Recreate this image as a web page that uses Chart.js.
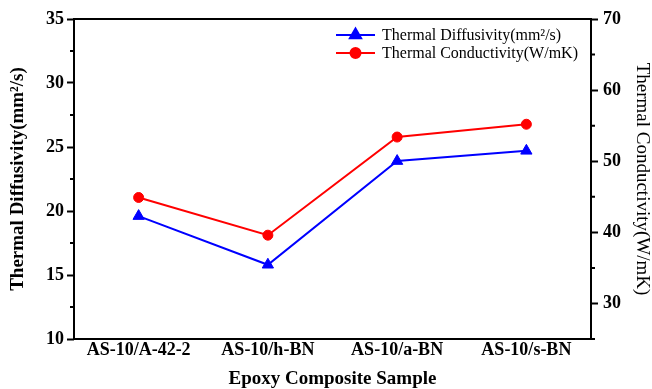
<html>
  <head>
    <script src="https://cdn.jsdelivr.net/npm/chart.js"></script>
    <style>
      body { margin: 0; background: #fff; }
    </style>
  </head>
  <body>
    <canvas id="myChart" width="652" height="389"></canvas>
    <script>
      const samples = ['AS-10/A-42-2', 'AS-10/h-BN', 'AS-10/a-BN', 'AS-10/s-BN'];
      const diffusivity = [19.6, 15.8, 23.9, 24.7];
      const conductivity = [44.9, 39.6, 53.4, 55.2];
      const leftRange = [10, 35];
      const rightRange = [25, 70];

      const serif = 'Liberation Serif';

      // box round the plot + short minor ticks
      const frame = {
        id: 'frame',
        afterDatasetsDraw(chart) {
          const { ctx, chartArea: a } = chart;
          ctx.save();
          ctx.strokeStyle = '#000';
          ctx.lineWidth = 2;
          ctx.strokeRect(a.left, a.top, a.right - a.left, a.bottom - a.top);
          const yl = chart.scales.y, yr = chart.scales.y1;
          ctx.beginPath();
          for (const t of yl.ticks) {
            if (t.value % 5 === 0) continue;
            const py = yl.getPixelForValue(t.value);
            ctx.moveTo(a.left - 4, py); ctx.lineTo(a.left, py);
          }
          for (const t of yr.ticks) {
            if (t.value % 10 === 0) continue;
            const py = yr.getPixelForValue(t.value);
            ctx.moveTo(a.right, py); ctx.lineTo(a.right + 4, py);
          }
          ctx.stroke();
          ctx.restore();
        }
      };

      // line - marker - line legend, top right inside the plot
      const lineLegend = {
        id: 'lineLegend',
        afterDraw(chart) {
          const { ctx, chartArea: a } = chart;
          const x0 = a.right - 255, y0 = a.top + 16;
          ctx.save();
          chart.data.datasets.forEach((ds, i) => {
            const y = y0 + i * 18;
            ctx.strokeStyle = ds.borderColor;
            ctx.lineWidth = 2;
            ctx.beginPath();
            ctx.moveTo(x0, y); ctx.lineTo(x0 + 39, y);
            ctx.stroke();
            Chart.helpers.drawPoint(ctx, {
              pointStyle: ds.pointStyle, radius: ds.pointRadius, borderWidth: 1
            }, x0 + 19.5, y);
            ctx.fillStyle = ds.backgroundColor;
            ctx.fill();
            ctx.fillStyle = '#000';
            ctx.font = '16px "' + serif + '"';
            ctx.textBaseline = 'middle';
            ctx.fillText(ds.label, x0 + 46, y + 1);
          });
          ctx.restore();
        }
      };

      new Chart(document.getElementById('myChart'), {
        type: 'line',
        data: {
          labels: samples,
          datasets: [{
            label: 'Thermal Diffusivity(mm\u00b2/s)',
            data: diffusivity,
            yAxisID: 'y',
            borderColor: '#0000ff',
            backgroundColor: '#0000ff',
            borderWidth: 2,
            pointStyle: 'triangle',
            pointRadius: 6.5,
            pointBorderWidth: 1
          }, {
            label: 'Thermal Conductivity(W/mK)',
            data: conductivity,
            yAxisID: 'y1',
            borderColor: '#ff0000',
            backgroundColor: '#ff0000',
            borderWidth: 2,
            pointStyle: 'circle',
            pointRadius: 5,
            pointBorderWidth: 1
          }]
        },
        options: {
          responsive: false,
          animation: false,
          layout: { padding: { top: 19 } },
          plugins: {
            legend: { display: false },
            tooltip: { enabled: false }
          },
          scales: {
            x: {
              offset: true,
              grid: { display: false, drawTicks: false },
              border: { display: false },
              ticks: { color: '#000', padding: 1, font: { family: serif, size: 18, weight: 'bold' } },
              title: {
                display: true, text: 'Epoxy Composite Sample', color: '#000',
                padding: { top: 0, bottom: 0 },
                font: { family: serif, size: 19, weight: 'bold', lineHeight: 1 }
              },
              afterFit: s => { s.height = 50; }
            },
            y: {
              position: 'left',
              min: leftRange[0], max: leftRange[1],
              grid: {
                drawOnChartArea: false, tickLength: 7, tickWidth: 2,
                tickColor: c => (c.tick && c.tick.value % 5 === 0) ? '#000' : 'rgba(0,0,0,0)'
              },
              border: { display: false },
              ticks: {
                stepSize: 2.5, color: '#000', padding: 3,
                font: { family: serif, size: 18, weight: 'bold' },
                callback: v => v % 5 === 0 ? v : ''
              },
              title: {
                display: true, text: 'Thermal Diffusivity(mm\u00b2/s)', color: '#000',
                padding: { top: 8.5, bottom: 0 },
                font: { family: serif, size: 19, weight: 'bold', lineHeight: 1 }
              },
              afterFit: s => { s.width = 74; }
            },
            y1: {
              position: 'right',
              min: rightRange[0], max: rightRange[1],
              grid: {
                drawOnChartArea: false, tickLength: 7, tickWidth: 2,
                tickColor: c => (c.tick && c.tick.value % 10 === 0) ? '#000' : 'rgba(0,0,0,0)'
              },
              border: { display: false },
              ticks: {
                stepSize: 5, color: '#000', padding: 5,
                font: { family: serif, size: 18, weight: 'bold' },
                callback: v => v % 10 === 0 ? v : ''
              },
              title: {
                display: true, text: 'Thermal Conductivity(W/mK)', color: '#000',
                padding: { top: 1, bottom: 0 },
                font: { family: serif, size: 19, lineHeight: 1 }
              },
              afterFit: s => { s.width = 61; }
            }
          }
        },
        plugins: [frame, lineLegend]
      });
    </script>
  </body>
</html>
